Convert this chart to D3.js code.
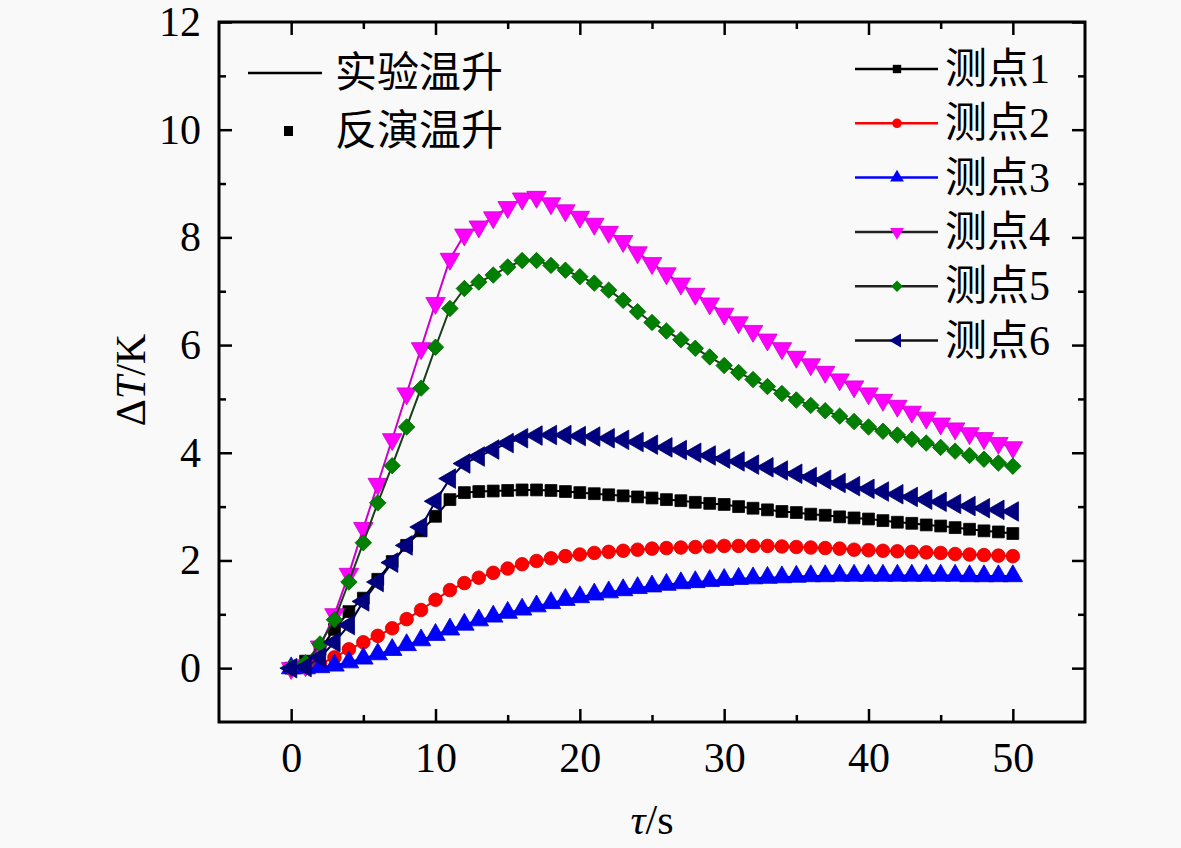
<!doctype html>
<html lang="zh">
  <head>
    <meta charset="UTF-8" />
    <title>测点温升</title>
    <script src="https://cdn.jsdelivr.net/npm/d3@7"></script>
    <style>
      html, body { margin: 0; padding: 0; background: #f9f9f9; }
      svg text { font-family: "Liberation Serif", "Noto Sans CJK SC", serif; fill: #000; }
    </style>
  </head>
  <body>
    <div id="chart"></div>
    <script>
      // time axis, 1 s steps 0..50
      const times = d3.range(0, 51);

      const point1 = [0, 0.13, 0.35, 0.72, 1.05, 1.3, 1.65, 1.98, 2.28, 2.55, 2.82, 3.13, 3.26, 3.28, 3.29, 3.3, 3.31,
        3.31, 3.3, 3.28, 3.26, 3.24, 3.22, 3.2, 3.18, 3.16, 3.13, 3.11, 3.08, 3.06, 3.04, 3.0, 2.97, 2.94, 2.91,
        2.89, 2.86, 2.84, 2.81, 2.79, 2.77, 2.74, 2.71, 2.69, 2.66, 2.64, 2.61, 2.58, 2.55, 2.53, 2.5];
      const point2 = [0, 0.02, 0.08, 0.2, 0.35, 0.48, 0.6, 0.74, 0.91, 1.08, 1.27, 1.45, 1.58, 1.68, 1.77, 1.85, 1.93,
        1.99, 2.04, 2.08, 2.11, 2.14, 2.16, 2.18, 2.2, 2.22, 2.23, 2.24, 2.25, 2.26, 2.27, 2.27, 2.27, 2.27, 2.26,
        2.25, 2.24, 2.23, 2.22, 2.2, 2.19, 2.18, 2.17, 2.16, 2.15, 2.14, 2.12, 2.11, 2.1, 2.09, 2.08];
      const point3 = [0, 0.0, 0.02, 0.05, 0.11, 0.18, 0.26, 0.34, 0.43, 0.52, 0.62, 0.72, 0.81, 0.89, 0.96, 1.03, 1.09,
        1.15, 1.21, 1.27, 1.32, 1.37, 1.41, 1.45, 1.49, 1.52, 1.55, 1.58, 1.6, 1.62, 1.64, 1.66, 1.67, 1.68, 1.69,
        1.7, 1.71, 1.71, 1.72, 1.72, 1.72, 1.72, 1.72, 1.72, 1.72, 1.72, 1.72, 1.71, 1.71, 1.71, 1.71];
      const point4 = [0, 0.05, 0.4, 1.0, 1.75, 2.6, 3.42, 4.25, 5.1, 5.94, 6.78, 7.6, 8.05, 8.2, 8.37, 8.56, 8.72,
        8.75, 8.63, 8.5, 8.38, 8.25, 8.1, 7.93, 7.72, 7.52, 7.33, 7.14, 6.95, 6.77, 6.58, 6.42, 6.26, 6.1, 5.94,
        5.78, 5.64, 5.5, 5.36, 5.23, 5.1, 4.98, 4.87, 4.76, 4.65, 4.54, 4.45, 4.36, 4.27, 4.18, 4.1];
      const point5 = [0, 0.1, 0.45, 0.9, 1.6, 2.33, 3.07, 3.76, 4.48, 5.2, 5.96, 6.68, 7.05, 7.17, 7.3, 7.45, 7.57,
        7.57, 7.48, 7.39, 7.27, 7.15, 7.02, 6.83, 6.62, 6.42, 6.26, 6.1, 5.94, 5.78, 5.62, 5.49, 5.36, 5.23, 5.1,
        4.98, 4.88, 4.78, 4.68, 4.58, 4.48, 4.4, 4.33, 4.25, 4.18, 4.1, 4.03, 3.95, 3.88, 3.81, 3.75];
      const point6 = [0, 0.02, 0.2, 0.48, 0.8, 1.24, 1.6, 1.96, 2.28, 2.62, 3.1, 3.52, 3.8, 3.93, 4.06, 4.18, 4.27,
        4.32, 4.33, 4.33, 4.31, 4.3, 4.27, 4.24, 4.2, 4.15, 4.1, 4.05, 4.0, 3.95, 3.89, 3.84, 3.78, 3.73, 3.67,
        3.61, 3.55, 3.5, 3.44, 3.38, 3.33, 3.28, 3.23, 3.18, 3.13, 3.09, 3.05, 3.01, 2.97, 2.94, 2.91];

      const seriesNames = ["测点1", "测点2", "测点3", "测点4", "测点5", "测点6"];
      const seriesValues = [point1, point2, point3, point4, point5, point6];

      const xMajor = [0, 10, 20, 30, 40, 50];
      const xMinor = [5, 15, 25, 35, 45];
      const yMajor = [0, 2, 4, 6, 8, 10, 12];
      const yMinor = [1, 3, 5, 7, 9, 11];

      const width = 1181;
      const height = 848;
      const marginLeft = 219;
      const marginRight = 96;
      const marginTop = 22;
      const marginBottom = 126;

      const markerColor = ["#000000", "#ff0000", "#0000ff", "#ff00ff", "#008000", "#000080"];
      const lineColor = ["#000000", "#ff0000", "#0000ff", "#cc00cc", "#1a3d1a", "#000050"];
      const legendLine = ["#000000", "#ff0000", "#0000ff", "#222222", "#222222", "#111111"];
      const markerShape = [
        { type: d3.symbolSquare, size: 140, rot: 0 },
        { type: d3.symbolCircle, size: 145, rot: 0 },
        { type: d3.symbolTriangle, size: 165, rot: 0 },
        { type: d3.symbolTriangle, size: 165, rot: 180 },
        { type: d3.symbolSquare, size: 135, rot: 45 },
        { type: d3.symbolTriangle, size: 165, rot: -90 }
      ];

      const x = d3.scaleLinear().domain([-5, 55]).range([marginLeft, width - marginRight]);
      const y = d3.scaleLinear().domain([-1, 12]).range([height - marginBottom, marginTop]);

      const svg = d3.select("#chart").append("svg")
        .attr("width", width)
        .attr("height", height);

      const plotBottom = height - marginBottom;
      const plotRight = width - marginRight;

      // clip so markers stay inside the frame
      svg.append("clipPath").attr("id", "clip")
        .append("rect")
        .attr("x", marginLeft).attr("y", marginTop)
        .attr("width", plotRight - marginLeft).attr("height", plotBottom - marginTop);

      const plot = svg.append("g").attr("clip-path", "url(#clip)");

      const line = d3.line()
        .x((d, i) => x(times[i]))
        .y(d => y(d));

      seriesValues.forEach((vals, k) => {
        plot.append("path")
          .datum(vals)
          .attr("fill", "none")
          .attr("stroke", lineColor[k])
          .attr("stroke-width", 2)
          .attr("d", line);

        const sym = d3.symbol().type(markerShape[k].type).size(markerShape[k].size);
        plot.append("g").selectAll("path")
          .data(vals)
          .enter()
          .append("path")
          .attr("d", sym)
          .attr("transform", (d, i) => `translate(${x(times[i])},${y(d)}) rotate(${markerShape[k].rot})`)
          .attr("fill", markerColor[k])
          .attr("stroke", d3.color(markerColor[k]).darker(0.6))
          .attr("stroke-width", 0.8);
      });

      // axes, ticks pointing inward
      const fmt = d3.format("d");
      svg.append("g")
        .attr("transform", `translate(0,${plotBottom})`)
        .call(d3.axisBottom(x).tickValues(xMajor).tickSize(-13).tickPadding(20).tickFormat(fmt));
      svg.append("g")
        .attr("transform", `translate(0,${plotBottom})`)
        .call(d3.axisBottom(x).tickValues(xMinor).tickSize(-7).tickFormat(""));
      svg.append("g")
        .attr("transform", `translate(0,${marginTop})`)
        .call(d3.axisTop(x).tickValues(xMajor).tickSize(-13).tickFormat(""));
      svg.append("g")
        .attr("transform", `translate(0,${marginTop})`)
        .call(d3.axisTop(x).tickValues(xMinor).tickSize(-7).tickFormat(""));

      svg.append("g")
        .attr("transform", `translate(${marginLeft},0)`)
        .call(d3.axisLeft(y).tickValues(yMajor).tickSize(-13).tickPadding(18).tickFormat(fmt));
      svg.append("g")
        .attr("transform", `translate(${marginLeft},0)`)
        .call(d3.axisLeft(y).tickValues(yMinor).tickSize(-7).tickFormat(""));
      svg.append("g")
        .attr("transform", `translate(${plotRight},0)`)
        .call(d3.axisRight(y).tickValues(yMajor).tickSize(-13).tickFormat(""));
      svg.append("g")
        .attr("transform", `translate(${plotRight},0)`)
        .call(d3.axisRight(y).tickValues(yMinor).tickSize(-7).tickFormat(""));

      svg.selectAll(".domain").remove();
      svg.selectAll("g").filter(function () { return this.hasAttribute("font-family"); })
        .attr("font-family", "Liberation Serif").attr("font-size", 42);
      svg.selectAll(".tick line").attr("stroke", "#000").attr("stroke-width", 2.5);
      svg.selectAll(".tick text")
        .style("font-family", "'Liberation Serif', serif")
        .style("font-size", "42px")
        .attr("fill", "#000");

      svg.append("rect")
        .attr("x", marginLeft).attr("y", marginTop)
        .attr("width", plotRight - marginLeft).attr("height", plotBottom - marginTop)
        .attr("fill", "none")
        .attr("stroke", "#000")
        .attr("stroke-width", 3);

      // axis titles
      const xTitle = svg.append("text")
        .attr("x", (marginLeft + plotRight) / 2)
        .attr("y", 834)
        .attr("text-anchor", "middle")
        .style("font-size", "42px");
      xTitle.append("tspan").attr("font-style", "italic").text("τ");
      xTitle.append("tspan").text("/s");

      const yTitle = svg.append("text")
        .attr("transform", "translate(145,380) rotate(-90)")
        .attr("text-anchor", "middle")
        .style("font-size", "42px");
      yTitle.append("tspan").text("Δ");
      yTitle.append("tspan").attr("font-style", "italic").text("T");
      yTitle.append("tspan").text("/K");

      // left legend: line = experiment, marker = inversion
      const legendFont = "42px";
      svg.append("line")
        .attr("x1", 248).attr("x2", 322).attr("y1", 73).attr("y2", 73)
        .attr("stroke", "#000").attr("stroke-width", 2.5);
      svg.append("text")
        .attr("x", 335).attr("y", 73)
        .attr("dominant-baseline", "central")
        .style("font-size", legendFont)
        .text("实验温升");
      svg.append("rect")
        .attr("x", 284).attr("y", 126).attr("width", 9).attr("height", 10)
        .attr("fill", "#000");
      svg.append("text")
        .attr("x", 335).attr("y", 131)
        .attr("dominant-baseline", "central")
        .style("font-size", legendFont)
        .text("反演温升");

      // right legend: one row per point
      const legend = svg.append("g");
      seriesNames.forEach((name, k) => {
        const ly = 69 + k * 54.3;
        legend.append("line")
          .attr("x1", 855).attr("x2", 938).attr("y1", ly).attr("y2", ly)
          .attr("stroke", legendLine[k]).attr("stroke-width", 2.5);
        legend.append("path")
          .attr("d", d3.symbol().type(markerShape[k].type).size(markerShape[k].size * 0.5))
          .attr("transform", `translate(897,${ly}) rotate(${markerShape[k].rot})`)
          .attr("fill", markerColor[k]);
        legend.append("text")
          .attr("x", 945).attr("y", ly)
          .attr("dominant-baseline", "central")
          .style("font-size", legendFont)
          .text(name);
      });
    </script>
  </body>
</html>
